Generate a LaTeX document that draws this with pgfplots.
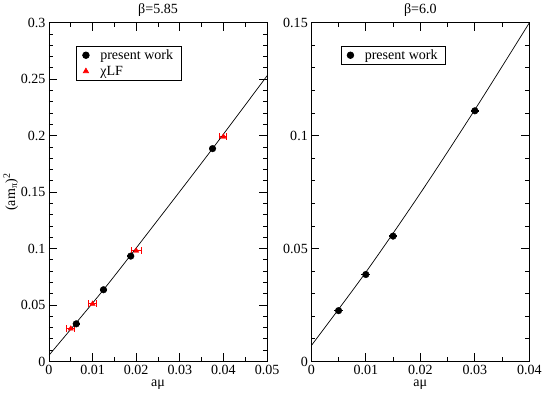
\documentclass[border=0pt]{standalone}
\usepackage{fontspec}
\setmainfont{Liberation Serif}
\usepackage{pgfplots}
\pgfplotsset{compat=1.18}

\newcommand{\plotfont}{\fontsize{14}{16}\selectfont}

\pgfplotsset{
  mystyle/.style={
    scale only axis,
    width=217bp, height=337bp,
    xmin=0,
    ymin=0,
    axis line style={line width=0.9bp},
    tick align=inside,
    major tick length=8bp,
    minor tick length=4bp,
    every tick/.style={black, line width=0.8bp},
    xtick distance=0.01,
    minor x tick num=1,
    ytick distance=0.05,
    minor y tick num=4,
    /pgf/number format/assume math mode=true,
    /pgf/number format/fixed,
    scaled ticks=false,
    tick label style={font=\plotfont},
    label style={font=\plotfont},
    title style={font=\plotfont, yshift=-3bp},
    xlabel={aμ},
    xlabel style={yshift=1bp},
    legend cell align=left,
    legend style={font=\plotfont, draw=black, line width=0.7bp,
      inner xsep=6bp, inner ysep=1.5bp, row sep=1bp,
      /tikz/every odd column/.append style={column sep=9bp}},
  },
  blkpts/.style={only marks, mark=*, mark size=3.3bp, black,
    error bars/.cd, x dir=both, x explicit, error bar style={line width=1.6bp, black}, error mark=none},
  redpts/.style={only marks, mark=triangle*, mark size=3bp, red,
    error bars/.cd, x dir=both, x explicit, error bar style={line width=1bp, red},
    error mark options={rotate=90, mark size=3.5bp, red, line width=1bp}},
}

\begin{document}
\begin{tikzpicture}
\begin{axis}[mystyle,
  at={(0bp,0bp)},
  xmax=0.05, ymax=0.3,
  title={β=5.85},
  ylabel={(am\textsubscript{π})\textsuperscript{2}},
  ylabel style={yshift=-4bp},
  legend style={at={(0.125,0.932)}, anchor=north west},
]
\addplot[blkpts] coordinates {
  (0.00625,0.0333) +- (0.0008,0)
  (0.0125,0.0635) +- (0.0008,0)
  (0.01875,0.0933) +- (0.0008,0)
  (0.0375,0.1885) +- (0.0008,0)
};
\addplot[redpts] coordinates {
  (0.005,0.029) +- (0.0009,0)
  (0.01,0.051) +- (0.0009,0)
  (0.02,0.098) +- (0.0011,0)
  (0.04,0.199) +- (0.0008,0)
};
\addplot[black, line width=0.7bp, smooth, forget plot] coordinates {
  (0,0.0055) (0.0125,0.0635) (0.025,0.1255) (0.0375,0.1885) (0.05,0.253)
};
\legend{present work, χLF}
\end{axis}

\begin{axis}[mystyle,
  at={(261bp,0bp)},
  xmax=0.04, ymax=0.15,
  title={β=6.0},
  legend style={at={(0.135,0.932)}, anchor=north west},
]
\addplot[blkpts] coordinates {
  (0.005,0.0225) +- (0.0008,0)
  (0.01,0.0385) +- (0.0008,0)
  (0.015,0.0555) +- (0.0008,0)
  (0.03,0.111) +- (0.0008,0)
};
\addplot[black, line width=0.7bp, smooth, forget plot] coordinates {
  (0,0.007) (0.01,0.0395) (0.02,0.0745) (0.03,0.1115) (0.04,0.15)
};
\legend{present work}
\end{axis}
\end{tikzpicture}
\end{document}
